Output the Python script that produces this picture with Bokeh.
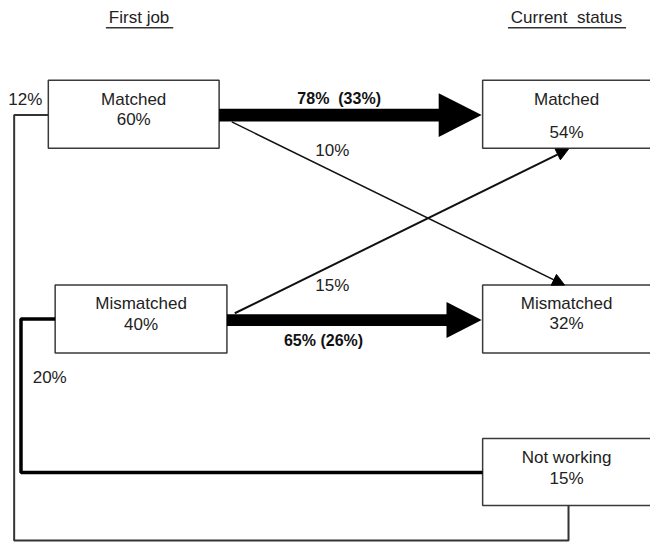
from bokeh.plotting import figure
from bokeh.models import Range1d, Arrow, NormalHead
from bokeh.core.properties import value
from bokeh.embed import file_html
from bokeh.resources import INLINE

# ---------------- data ----------------
first_job = ["Matched", "Mismatched"]
first_pct = [60, 40]
current = ["Matched", "Mismatched", "Not working"]
current_pct = [54, 32, 15]
# flows: from first job -> current status
flow_from = ["Matched", "Matched", "Mismatched", "Mismatched", "Matched", "Mismatched"]
flow_to = ["Matched", "Mismatched", "Matched", "Mismatched", "Not working", "Not working"]
flow_pct = [78, 10, 15, 65, 12, 20]
flow_share = [33, None, None, 26, None, None]
headers = ["First job", "Current  status"]

# ---------------- layout (pixel-like coordinates) ----------------
W, H = 666, 558
p = figure(width=650, height=542, output_backend="svg", toolbar_location=None,
           x_range=Range1d(0, W), y_range=Range1d(H, 0))
p.axis.visible = False
p.grid.visible = False
p.outline_line_color = None
p.min_border = 0
p.background_fill_color = "white"

FONT = value("Liberation Sans")
TXT = "#222222"
BOX = "#3a3a3a"

left_box = {"Matched": (49, 224, 82, 152), "Mismatched": (56, 232, 293, 363)}
right_box = {"Matched": (494, 670, 82, 152), "Mismatched": (494, 670, 293, 363),
             "Not working": (494, 670, 451, 520)}
left_text_y = {"Matched": (102, 123), "Mismatched": (312, 334)}
right_text_y = {"Matched": (102, 136), "Mismatched": (312, 333), "Not working": (470, 492)}

# boxes
boxes = [left_box[n] for n in first_job] + [right_box[n] for n in current]
p.quad(left=[b[0] for b in boxes], right=[b[1] for b in boxes],
       top=[b[2] for b in boxes], bottom=[b[3] for b in boxes],
       fill_color="white", line_color=BOX, line_width=1.5)

# box texts
tx, ty, tt = [], [], []
for n, v in zip(first_job, first_pct):
    l, r, t, b = left_box[n]
    cx = (l + r) / 2
    tx += [cx, cx]; ty += list(left_text_y[n]); tt += [n, f"{v}%"]
for n, v in zip(current, current_pct):
    cx = 580
    tx += [cx, cx]; ty += list(right_text_y[n]); tt += [n, f"{v}%"]
p.text(x=tx, y=ty, text=tt, text_align="center", text_baseline="middle",
       text_font=FONT, text_font_size="17px", text_color=TXT)

# headers (underlined)
hx = [142, 580]
p.text(x=hx, y=[17, 17], text=[h.replace("  ", "\u00a0\u00a0") for h in headers],
       text_align="center", text_baseline="middle",
       text_font=FONT, text_font_size="17px", text_color=TXT)
p.segment(x0=[108, 520], y0=[28, 28], x1=[177, 641], y1=[28, 28],
          line_color="#333333", line_width=1.5)

# thick arrows (Matched->Matched, Mismatched->Mismatched)
thick = [
    # (x_start, x_head_base, x_tip, y, shaft_w, head_half)
    (224, 449, 493, 118, 13, 22.5),
    (232, 457, 493, 329, 12, 18.5),
]
for xs, xb, xt, y, sw, hh in thick:
    p.quad(left=[xs], right=[xb + 1], top=[y - sw / 2], bottom=[y + sw / 2],
           fill_color="black", line_color=None)
    p.patch(x=[xb, xt, xb], y=[y - hh, y, y + hh], fill_color="black", line_color=None)

# thin diagonal arrows
p.add_layout(Arrow(x_start=237, y_start=125, x_end=578, y_end=293, line_width=1.5,
                   line_color="#111111",
                   end=NormalHead(size=12, fill_color="black", line_color="black", line_width=1)))
p.add_layout(Arrow(x_start=240, y_start=322, x_end=582, y_end=153, line_width=2,
                   line_color="#111111",
                   end=NormalHead(size=12, fill_color="black", line_color="black", line_width=1)))

# loops to "Not working"
p.line(x=[49, 14, 14, 582, 582], y=[118, 118, 556, 556, 520], line_color="#333333", line_width=2)
p.line(x=[56, 21, 21, 494], y=[328, 328, 486, 486], line_color="black", line_width=3.5)

# flow labels
def lab(i, gap=" "):
    s = f"{flow_pct[i]}%"
    if flow_share[i] is not None:
        s += f"{gap}({flow_share[i]}%)"
    return s

p.text(x=[8, 33], y=[102, 388], text=[lab(4), lab(5)], text_align="left",
       text_baseline="middle", text_font=FONT, text_font_size="17px", text_color=TXT)
p.text(x=[340, 340], y=[154, 293], text=[lab(1), lab(2)], text_align="center",
       text_baseline="middle", text_font=FONT, text_font_size="17px", text_color=TXT)
p.text(x=[347, 331], y=[101, 350], text=[lab(0, "\u00a0\u00a0"), lab(3)], text_align="center",
       text_baseline="middle", text_font=FONT, text_font_size="16px",
       text_font_style="bold", text_color="#111111")

open("out.html", "w").write(file_html(p, INLINE))
